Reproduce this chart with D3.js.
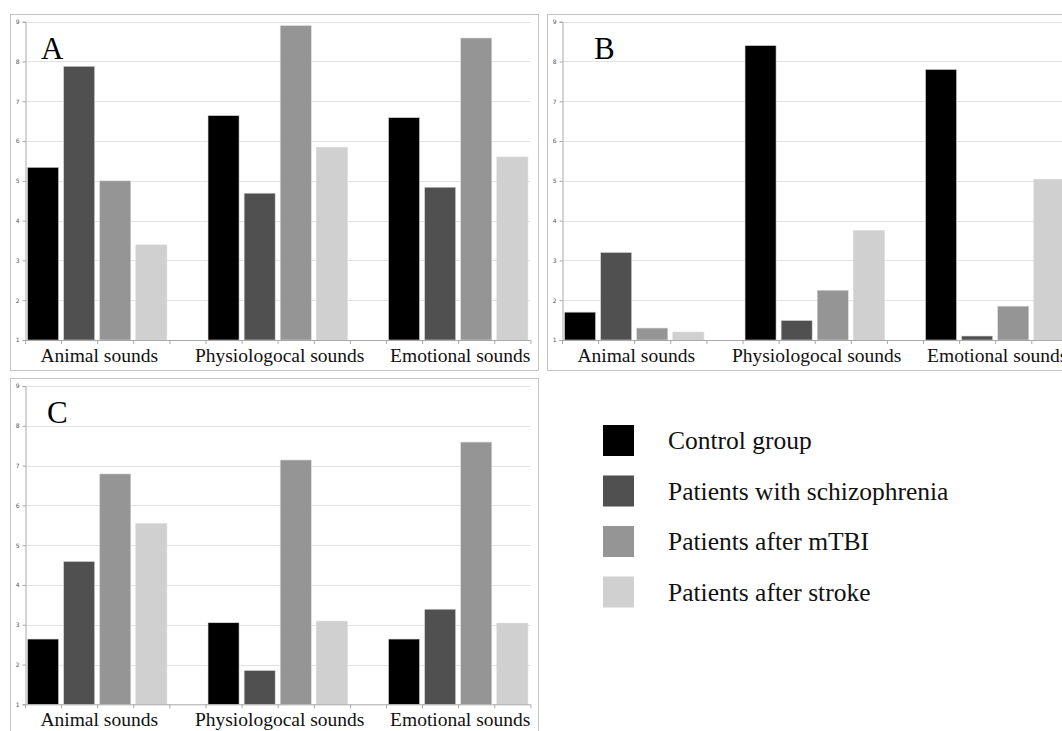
<!DOCTYPE html>
<html>
<head>
<meta charset="utf-8">
<script src="https://cdn.jsdelivr.net/npm/d3@7"></script>
<style>
  body { margin: 0; background: #fff; }
  svg { display: block; }
</style>
</head>
<body>
<div id="chart"></div>
<script>
// categories, groups and tick values
const categories = ["Animal sounds", "Physiologocal sounds", "Emotional sounds"];
const groups = ["Control group", "Patients with schizophrenia", "Patients after mTBI", "Patients after stroke"];
const groupColors = ["#000000", "#505050", "#959595", "#d0d0d0"];
const yTicks = [1, 2, 3, 4, 5, 6, 7, 8, 9];

// values per category, in group order
const valuesA = [[5.34, 7.88, 5.0, 3.39], [6.64, 4.69, 8.9, 5.84], [6.59, 4.84, 8.59, 5.6]];
const valuesB = [[1.7, 3.2, 1.3, 1.2], [8.4, 1.49, 2.25, 3.75], [7.8, 1.1, 1.85, 5.04]];
const valuesC = [[2.64, 4.59, 6.79, 5.54], [3.05, 1.85, 7.14, 3.09], [2.64, 3.39, 7.59, 3.04]];

var width = 1062, height = 731;

var svg = d3.select("#chart").append("svg")
  .attr("width", width)
  .attr("height", height);

function drawPanel(p) {
  var g = svg.append("g");

  // frame round the panel
  g.append("rect")
    .attr("x", p.frame[0] + 0.5).attr("y", p.frame[1] + 0.5)
    .attr("width", p.frame[2]).attr("height", p.frame[3])
    .attr("fill", "#fff")
    .attr("stroke", "#c4c4c4");

  var slot = p.slot;
  // each category takes 5 slots: 4 bars and a gap
  var x0 = d3.scaleBand().domain(categories).range([p.left, p.left + 15 * slot]);
  var x1 = d3.scaleBand().domain(groups).range([0, 4 * slot])
    .paddingInner(0.14).paddingOuter(0.07);
  var y = d3.scaleLinear().domain([1, 9]).range([p.bottom, p.top]);
  var right = p.left + 14 * slot;

  // gridlines
  g.append("g").selectAll("line")
    .data(yTicks.slice(1))
    .join("line")
    .attr("x1", p.left).attr("x2", right)
    .attr("y1", d => Math.round(y(d)) + 0.5).attr("y2", d => Math.round(y(d)) + 0.5)
    .attr("stroke", "#e2e2e2")
    .attr("stroke-width", 1.2);

  // y axis
  var ya = g.append("g")
    .attr("transform", "translate(" + (p.left + 0.5) + ",0)")
    .call(d3.axisLeft(y).tickValues(yTicks).tickSize(3).tickPadding(3).tickFormat(d3.format("d")));
  ya.selectAll("path, line").attr("stroke", "#a8a8a8");
  ya.selectAll("text")
    .attr("fill", "#555")
    .style("font-family", "DejaVu Sans, sans-serif")
    .style("font-size", "6px");

  // bars
  var cat = g.append("g").selectAll("g")
    .data(categories)
    .join("g")
    .attr("transform", d => "translate(" + x0(d) + ",0)");

  cat.selectAll("rect")
    .data((d, i) => p.values[i].map((v, j) => ({ group: groups[j], value: v, color: groupColors[j] })))
    .join("rect")
    .attr("x", d => x1(d.group))
    .attr("width", x1.bandwidth())
    .attr("y", d => y(d.value))
    .attr("height", d => y(1) - y(d.value))
    .attr("fill", d => d.color)
    .attr("stroke", "#d8d8d8")
    .attr("stroke-width", 0.6);

  // x axis line with slot ticks
  var xa = g.append("g");
  xa.append("line")
    .attr("x1", p.left).attr("x2", right)
    .attr("y1", y(1) + 0.5).attr("y2", y(1) + 0.5)
    .attr("stroke", "#a8a8a8");
  xa.selectAll("line.tick")
    .data(d3.range(0, 15))
    .join("line")
    .attr("class", "tick")
    .attr("x1", d => p.left + d * slot + 0.5).attr("x2", d => p.left + d * slot + 0.5)
    .attr("y1", y(1)).attr("y2", y(1) + 4)
    .attr("stroke", "#a8a8a8");

  // category labels
  g.append("g").selectAll("text")
    .data(categories)
    .join("text")
    .attr("x", d => x0(d) + 2 * slot + 2)
    .attr("y", y(1) + 22)
    .attr("text-anchor", "middle")
    .style("font-family", "Liberation Serif, serif")
    .style("font-size", "19.5px")
    .attr("fill", "#111")
    .text(d => d);

  // panel letter
  g.append("text")
    .attr("x", p.letterPos[0])
    .attr("y", p.letterPos[1])
    .style("font-family", "Liberation Serif, serif")
    .style("font-size", "31px")
    .attr("fill", "#000")
    .text(p.letter);
}

drawPanel({ letter: "A", values: valuesA, frame: [10, 14, 528, 356], left: 25, slot: 36.1, top: 21.7, bottom: 340, letterPos: [41, 59] });
drawPanel({ letter: "B", values: valuesB, frame: [547, 14, 530, 356], left: 562, slot: 36.1, top: 21.7, bottom: 340, letterPos: [594, 59] });
drawPanel({ letter: "C", values: valuesC, frame: [10, 378, 528, 360], left: 25, slot: 36.1, top: 386, bottom: 704.3, letterPos: [47, 423] });

// legend
var legend = svg.append("g")
  .attr("transform", "translate(603,425)");

var item = legend.selectAll("g")
  .data(groups)
  .join("g")
  .attr("transform", (d, i) => "translate(0," + (i * 50.5) + ")");

item.append("rect")
  .attr("width", 31)
  .attr("height", 31)
  .attr("fill", (d, i) => groupColors[i]);

item.append("text")
  .attr("x", 65)
  .attr("y", 24)
  .style("font-family", "Liberation Serif, serif")
  .style("font-size", "25.5px")
  .attr("fill", "#111")
  .text(d => d);
</script>
</body>
</html>
